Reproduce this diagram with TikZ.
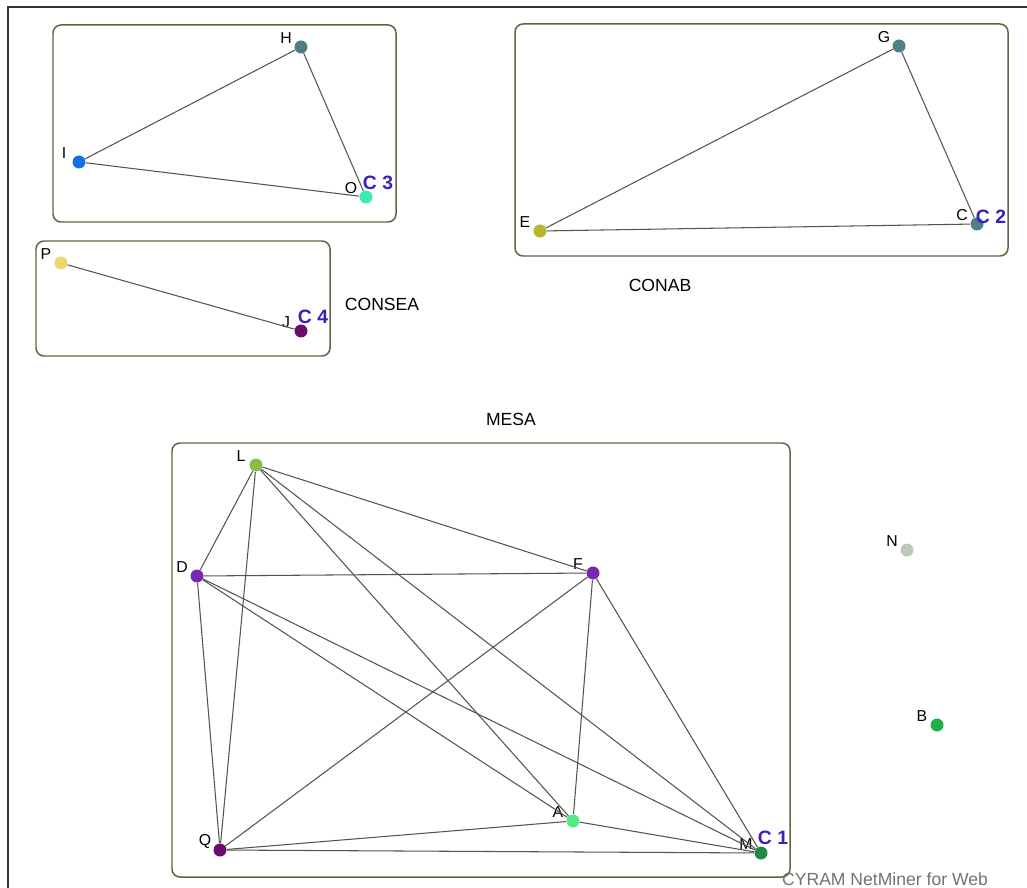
\documentclass[tikz,border=0pt]{standalone}
\usepackage{fontspec}
\setmainfont{Liberation Sans}
\usetikzlibrary{positioning}

\definecolor{boxc}{RGB}{105,95,65}
\definecolor{edgec}{RGB}{85,85,78}
\definecolor{cblue}{RGB}{60,30,190}
\definecolor{colH}{RGB}{80,125,130}
\definecolor{colI}{RGB}{20,110,230}
\definecolor{colO}{RGB}{60,235,175}
\definecolor{colG}{RGB}{80,128,135}
\definecolor{colE}{RGB}{185,180,50}
\definecolor{colP}{RGB}{235,215,110}
\definecolor{colJ}{RGB}{110,10,110}
\definecolor{colL}{RGB}{140,190,70}
\definecolor{colD}{RGB}{120,40,180}
\definecolor{colA}{RGB}{80,235,130}
\definecolor{colM}{RGB}{30,140,70}
\definecolor{colN}{RGB}{185,200,185}
\definecolor{colB}{RGB}{30,175,70}

\begin{document}
\begin{tikzpicture}[x=0.02cm,y=-0.02cm]
   \tikzset{lbl/.style = {font=\fontsize{9}{10}\selectfont, text=black, inner sep=0pt}, }
   \tikzset{actor/.style = {circle, fill=#1, inner sep=0pt, minimum size=0.26cm,
       label={[lbl, xshift=-0.3cm, yshift=0.17cm]center:\tikzlabel}}, }
   \tikzset{clbl/.style = {font=\bfseries\fontsize{11}{12}\selectfont, text=cblue, inner sep=0pt}, }
   \tikzset{group/.style = {draw=boxc, line width=0.85pt, rounded corners=0.16cm}, }
   \tikzset{gname/.style = {font=\fontsize{10}{11}\selectfont, inner sep=0pt}, }
   \tikzset{tie/.style = {draw=edgec, line width=0.6pt}, }
   \useasboundingbox (0,0) rectangle (1027,888);
   \fill[white] (0,0) rectangle (1027,888);

   % frame
   \draw[line width=1.2pt, black!80] (8,888) -- (8,7) -- (1027,7);

   % groups
   \draw[group] (53,25) rectangle (396,222);
   \draw[group] (515,24) rectangle (1008,256);
   \draw[group] (36,241) rectangle (330,356);
   \draw[group] (172,443) rectangle (790,877);

   % actors
   \def\tikzlabel{H}\node[actor=colH] (H) at (301,47) {};
   \def\tikzlabel{I}\node[actor=colI] (I) at (79,162) {};
   \def\tikzlabel{O}\node[actor=colO] (O) at (366,197) {};
   \def\tikzlabel{G}\node[actor=colG] (G) at (899,46) {};
   \def\tikzlabel{E}\node[actor=colE] (E) at (540,231) {};
   \def\tikzlabel{C}\node[actor=colG] (C) at (977,224) {};
   \def\tikzlabel{P}\node[actor=colP] (P) at (61,263) {};
   \def\tikzlabel{J}\node[actor=colJ] (J) at (301,331) {};
   \def\tikzlabel{L}\node[actor=colL] (L) at (256,465) {};
   \def\tikzlabel{D}\node[actor=colD] (D) at (197,576) {};
   \def\tikzlabel{F}\node[actor=colD] (F) at (593,573) {};
   \def\tikzlabel{Q}\node[actor=colJ] (Q) at (220,850) {};
   \def\tikzlabel{A}\node[actor=colA] (A) at (573,821) {};
   \def\tikzlabel{M}\node[actor=colM] (M) at (761,853) {};
   \def\tikzlabel{N}\node[actor=colN] (N) at (907,550) {};
   \def\tikzlabel{B}\node[actor=colB] (B) at (937,725) {};

   % cluster tags
   \node[clbl] (c3) at (378,183) {C 3};
   \node[clbl] (c2) at (991,217) {C 2};
   \node[clbl] (c4) at (313,317) {C 4};
   \node[clbl] (c1) at (773,838) {C 1};

   % group names
   \node[gname] (consea) at (382,304) {CONSEA};
   \node[gname] (conab) at (660,285) {CONAB};
   \node[gname] (mesa) at (511,419) {MESA};
   \node[gname, text=black!55] (cyram) at (885,879) {CYRAM NetMiner for Web};

   % ties
   \path[tie]
   (H) edge (I)
   (H) edge (O)
   (I) edge (O)
   (G) edge (E)
   (G) edge (C)
   (E) edge (C)
   (P) edge (J);

   \path[tie]
   (L) edge (D)
   (L) edge (Q)
   (L) edge (A)
   (L) edge (M)
   (L) edge (F)
   (D) edge (F)
   (D) edge (Q)
   (D) edge (A)
   (D) edge (M)
   (F) edge (Q)
   (F) edge (A)
   (F) edge (M)
   (Q) edge (A)
   (Q) edge (M)
   (A) edge (M);
\end{tikzpicture}
\end{document}
